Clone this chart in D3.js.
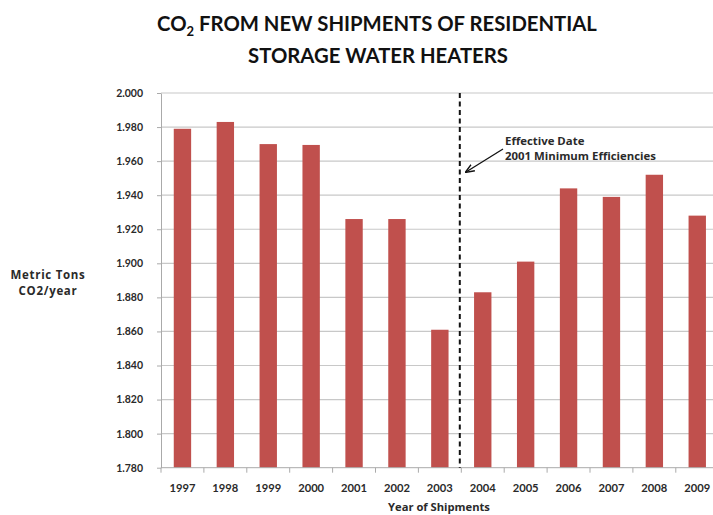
<!DOCTYPE html>
<html><head><meta charset="utf-8">
<script src="https://cdn.jsdelivr.net/npm/d3@7"></script>
<style>body{margin:0;background:#fff}svg{display:block}</style>
</head><body>
<script>
const years = ["1997","1998","1999","2000","2001","2002","2003","2004","2005","2006","2007","2008","2009"];
const values = [1.979,1.983,1.970,1.9695,1.926,1.926,1.861,1.883,1.901,1.944,1.939,1.952,1.928];
const yTicks = [1.780,1.800,1.820,1.840,1.860,1.880,1.900,1.920,1.940,1.960,1.980,2.000];
const titleLines = ["FROM NEW SHIPMENTS OF RESIDENTIAL","STORAGE WATER HEATERS"];
const annotation = ["Effective Date","2001 Minimum Efficiencies"];
const yLabel = ["Metric Tons","CO2/year"];
const xLabel = "Year of Shipments";
const markerBetween = ["2003","2004"];

const W=713,H=515;
const svg=d3.select("body").append("svg").attr("width",W).attr("height",H)
  .style("font-family","Lato,'Open Sans',sans-serif");
const left=161, step=42.9;
const x=d3.scaleBand().domain(years).range([left,left+step*years.length]).paddingInner(0.595).paddingOuter(0.2975);
const y=d3.scaleLinear().domain([1.78,2.0]).range([467.7,93]);
const smallFont="'Open Sans',Lato,sans-serif";

// gridlines
svg.append("g").selectAll("line").data(yTicks.filter(d=>d>1.78)).join("line")
  .attr("x1",left).attr("x2",W).attr("y1",d=>y(d)).attr("y2",d=>y(d))
  .attr("stroke","#c8c8c8").attr("stroke-width",1.2);

// bars
svg.append("g").selectAll("rect").data(values).join("rect")
  .attr("x",(d,i)=>x(years[i])).attr("width",x.bandwidth())
  .attr("y",d=>y(d)).attr("height",d=>y(1.78)-y(d)).attr("fill","#c0504d");

// y axis
const ya=svg.append("g").attr("transform",`translate(${left},0)`)
  .call(d3.axisLeft(y).tickValues(yTicks).tickFormat(d3.format(".3f")).tickSize(4).tickSizeOuter(0).tickPadding(14));
ya.attr("font-family",null);
ya.select(".domain").attr("stroke","#aaa");
ya.selectAll(".tick line").attr("stroke","#aaa");
ya.selectAll("text").attr("font-size",10.5).attr("font-weight",700).attr("fill","#2a2a2a");

// x axis
const xa=svg.append("g").attr("transform",`translate(0,${y(1.78)})`);
xa.append("line").attr("x1",left).attr("x2",W).attr("stroke","#aaa");
const bounds=years.map(d=>x(d)-(x.step()-x.bandwidth())/2);
xa.selectAll("line.t").data(bounds).join("line").attr("class","t")
  .attr("x1",d=>d).attr("x2",d=>d).attr("y1",0).attr("y2",5).attr("stroke","#aaa");
xa.selectAll("text").data(years).join("text")
  .attr("x",d=>x(d)+x.bandwidth()/2).attr("y",24).attr("text-anchor","middle")
  .attr("font-size",11.2).attr("font-weight",700).attr("fill","#2a2a2a").text(d=>d);

// dashed marker line
const mx=(x(markerBetween[0])+x.bandwidth()+x(markerBetween[1]))/2 - 1.5;
svg.append("line").attr("x1",mx).attr("x2",mx).attr("y1",y(2.0)).attr("y2",y(1.78))
  .attr("stroke","#111").attr("stroke-width",2).attr("stroke-dasharray","5,3.5");

// annotation
const ann=svg.append("text").attr("font-size",11.4).attr("font-weight",700).attr("fill","#2a2a2a").style("font-family",smallFont);
ann.selectAll("tspan").data(annotation).join("tspan").attr("x",505).attr("y",(d,i)=>145+i*15).text(d=>d);
svg.append("defs").append("marker").attr("id","ah").attr("viewBox","0 0 10 10").attr("refX",9).attr("refY",5)
  .attr("markerWidth",7).attr("markerHeight",7).attr("orient","auto")
  .append("path").attr("d","M0,1 L10,5 L0,9").attr("fill","none").attr("stroke","#111").attr("stroke-width",1.6);
svg.append("line").attr("x1",503).attr("y1",149).attr("x2",466).attr("y2",172)
  .attr("stroke","#111").attr("stroke-width",1.3).attr("marker-end","url(#ah)");

// title
const t1=svg.append("text").attr("x",377).attr("y",31).attr("text-anchor","middle")
  .attr("font-size",20.3).attr("font-weight",700).attr("fill","#111");
t1.append("tspan").text("CO");
t1.append("tspan").attr("font-size",13).attr("dy",5).text("2");
t1.append("tspan").attr("dy",-5).text(" "+titleLines[0]);
svg.append("text").attr("x",378).attr("y",63).attr("text-anchor","middle")
  .attr("font-size",20.3).attr("font-weight",700).attr("fill","#111").text(titleLines[1]);

// y label
const yl=svg.append("text").attr("font-size",11.5).attr("font-weight",700).attr("fill","#2a2a2a").attr("text-anchor","middle")
  .style("font-family",smallFont).style("letter-spacing","0.7px");
yl.selectAll("tspan").data(yLabel).join("tspan").attr("x",48).attr("y",(d,i)=>279+i*16).text(d=>d);

// x label
svg.append("text").attr("x",439).attr("y",511).attr("text-anchor","middle").style("font-family",smallFont)
  .attr("font-size",11.2).attr("font-weight",700).attr("fill","#2a2a2a").text(xLabel);
</script>
</body></html>
